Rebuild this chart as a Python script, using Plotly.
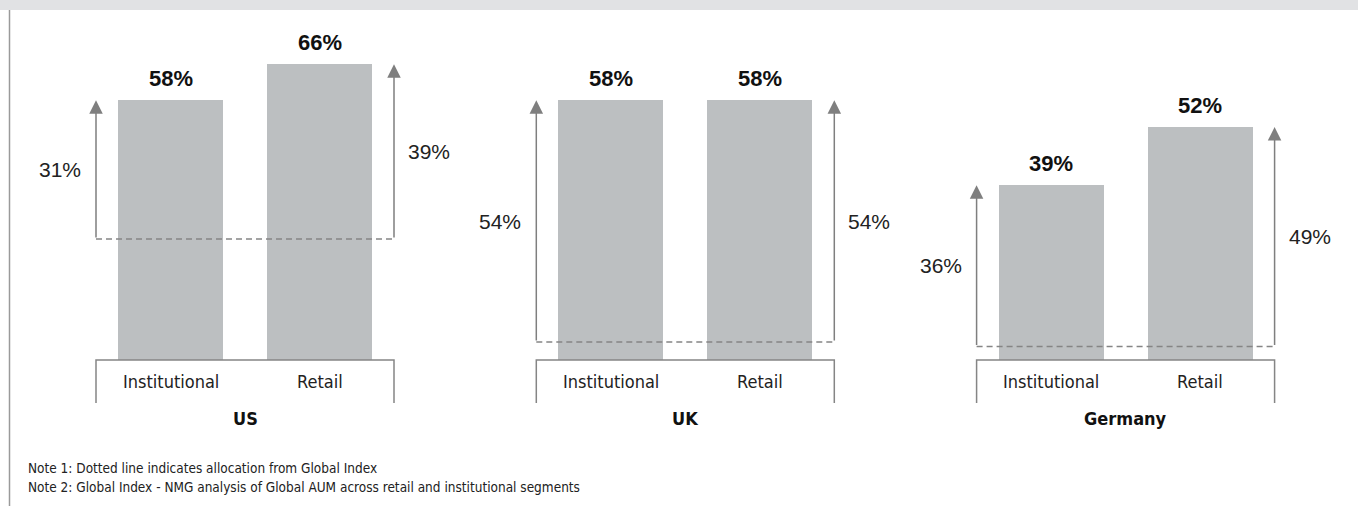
import plotly.graph_objects as go

# ---- data -------------------------------------------------------------
countries = ["US", "UK", "Germany"]
segments = ["Institutional", "Retail"]
institutional = [58, 58, 39]          # allocation, %
retail = [66, 58, 52]                 # allocation, %
institutional_uplift = [31, 54, 36]   # gap above Global Index, % pts
retail_uplift = [39, 54, 49]          # gap above Global Index, % pts
notes = [
    "Note 1: Dotted line indicates allocation from Global Index",
    "Note 2: Global Index - NMG analysis of Global AUM across retail and institutional segments",
]

# ---- layout constants -------------------------------------------------
W, H = 1358, 506
GROUP_STEP = 2.955        # distance between country groups (bar units)
BAR_WIDTH = 0.705
SIDE = 0.5                # arrow / box offset beyond the bar centres
BOX_DEPTH = -9.6          # how far the category box sides drop below 0
X_RANGE = [-1.1443, 7.9698]
Y_RANGE = [-32.59, 80.36]

BAR_COLOR = "#bcbfc1"
LINE_COLOR = "#858585"
ARROW_COLOR = "#7f7f7f"
NARROW = "DejaVu Sans Condensed, DejaVu Sans, sans-serif"
SANS = "Liberation Sans, Arial, Helvetica, sans-serif"

fig = go.Figure()

xs, ys = [], []
for g in range(len(countries)):
    for s, vals in enumerate((institutional, retail)):
        xs.append(g * GROUP_STEP + s)
        ys.append(vals[g])

fig.add_trace(go.Bar(
    x=xs, y=ys, width=BAR_WIDTH,
    marker=dict(color=BAR_COLOR, line=dict(width=0)),
    hoverinfo="skip", showlegend=False,
))

shapes = []
annotations = []

for g, country in enumerate(countries):
    left = g * GROUP_STEP - SIDE
    right = g * GROUP_STEP + 1 + SIDE
    vals = [institutional[g], retail[g]]
    ups = [institutional_uplift[g], retail_uplift[g]]
    base = vals[0] - ups[0]   # Global Index level

    # dashed Global Index line
    shapes.append(dict(type="line", xref="x", yref="y", x0=left, x1=right,
                       y0=base, y1=base,
                       line=dict(color=LINE_COLOR, width=1.5, dash="6px,4px"),
                       layer="above"))

    # category box (open at the bottom)
    shapes.append(dict(type="path", xref="x", yref="y",
                       path=f"M{left},{BOX_DEPTH} L{left},0 L{right},0 L{right},{BOX_DEPTH}",
                       line=dict(color=LINE_COLOR, width=1.5), layer="above"))

    for s, seg in enumerate(segments):
        cx = g * GROUP_STEP + s
        # value above bar
        annotations.append(dict(x=cx, y=vals[s], xref="x", yref="y",
                                text=f"<b>{vals[s]}%</b>", showarrow=False,
                                yanchor="middle", yshift=22,
                                font=dict(family=SANS, size=22, color="#111111")))
        # segment label inside the box
        annotations.append(dict(x=cx, y=-4.7, xref="x", yref="y",
                                text=seg, showarrow=False, yanchor="middle",
                                font=dict(family=NARROW, size=18, color="#222222")))

    # uplift arrows on both sides
    for s, ax_x in enumerate((left, right)):
        tip = base + ups[s]
        annotations.append(dict(x=ax_x, y=tip, ax=ax_x, ay=base,
                                xref="x", yref="y", axref="x", ayref="y",
                                text="", showarrow=True, arrowhead=2,
                                arrowsize=1.8, arrowwidth=1.5,
                                arrowcolor=ARROW_COLOR, standoff=0,
                                startstandoff=0))
        annotations.append(dict(x=ax_x, y=(base + tip) / 2, xref="x", yref="y",
                                text=f"{ups[s]}%", showarrow=False,
                                xanchor="right" if s == 0 else "left",
                                xshift=-13 if s == 0 else 12,
                                yanchor="middle",
                                font=dict(family=SANS, size=21, color="#222222")))

    # country name
    annotations.append(dict(x=g * GROUP_STEP + 0.5, y=-12.95, xref="x", yref="y",
                            text=f"<b>{country}</b>", showarrow=False,
                            yanchor="middle",
                            font=dict(family=NARROW, size=18, color="#111111")))

# top band and left rule
shapes.append(dict(type="rect", xref="paper", yref="paper", x0=0, x1=1,
                   y0=1 - 10 / H, y1=1, fillcolor="#e1e2e4",
                   line=dict(width=0), layer="above"))
shapes.append(dict(type="line", xref="paper", yref="paper",
                   x0=9.5 / W, x1=9.5 / W, y0=0, y1=1 - 10 / H,
                   line=dict(color="#9a9a9a", width=1.5)))

for i, note in enumerate(notes):
    annotations.append(dict(x=26 / W, y=1 - (468 + 19 * i) / H,
                            xref="paper", yref="paper", text=note,
                            showarrow=False, xanchor="left", yanchor="middle",
                            font=dict(family=NARROW, size=13.5, color="#222222")))

fig.update_layout(
    width=W, height=H,
    margin=dict(l=0, r=0, t=0, b=0),
    paper_bgcolor="white", plot_bgcolor="white",
    xaxis=dict(range=X_RANGE, visible=False, fixedrange=True),
    yaxis=dict(range=Y_RANGE, visible=False, fixedrange=True),
    shapes=shapes, annotations=annotations,
    bargap=0,
)

fig.write_html("out.html")
